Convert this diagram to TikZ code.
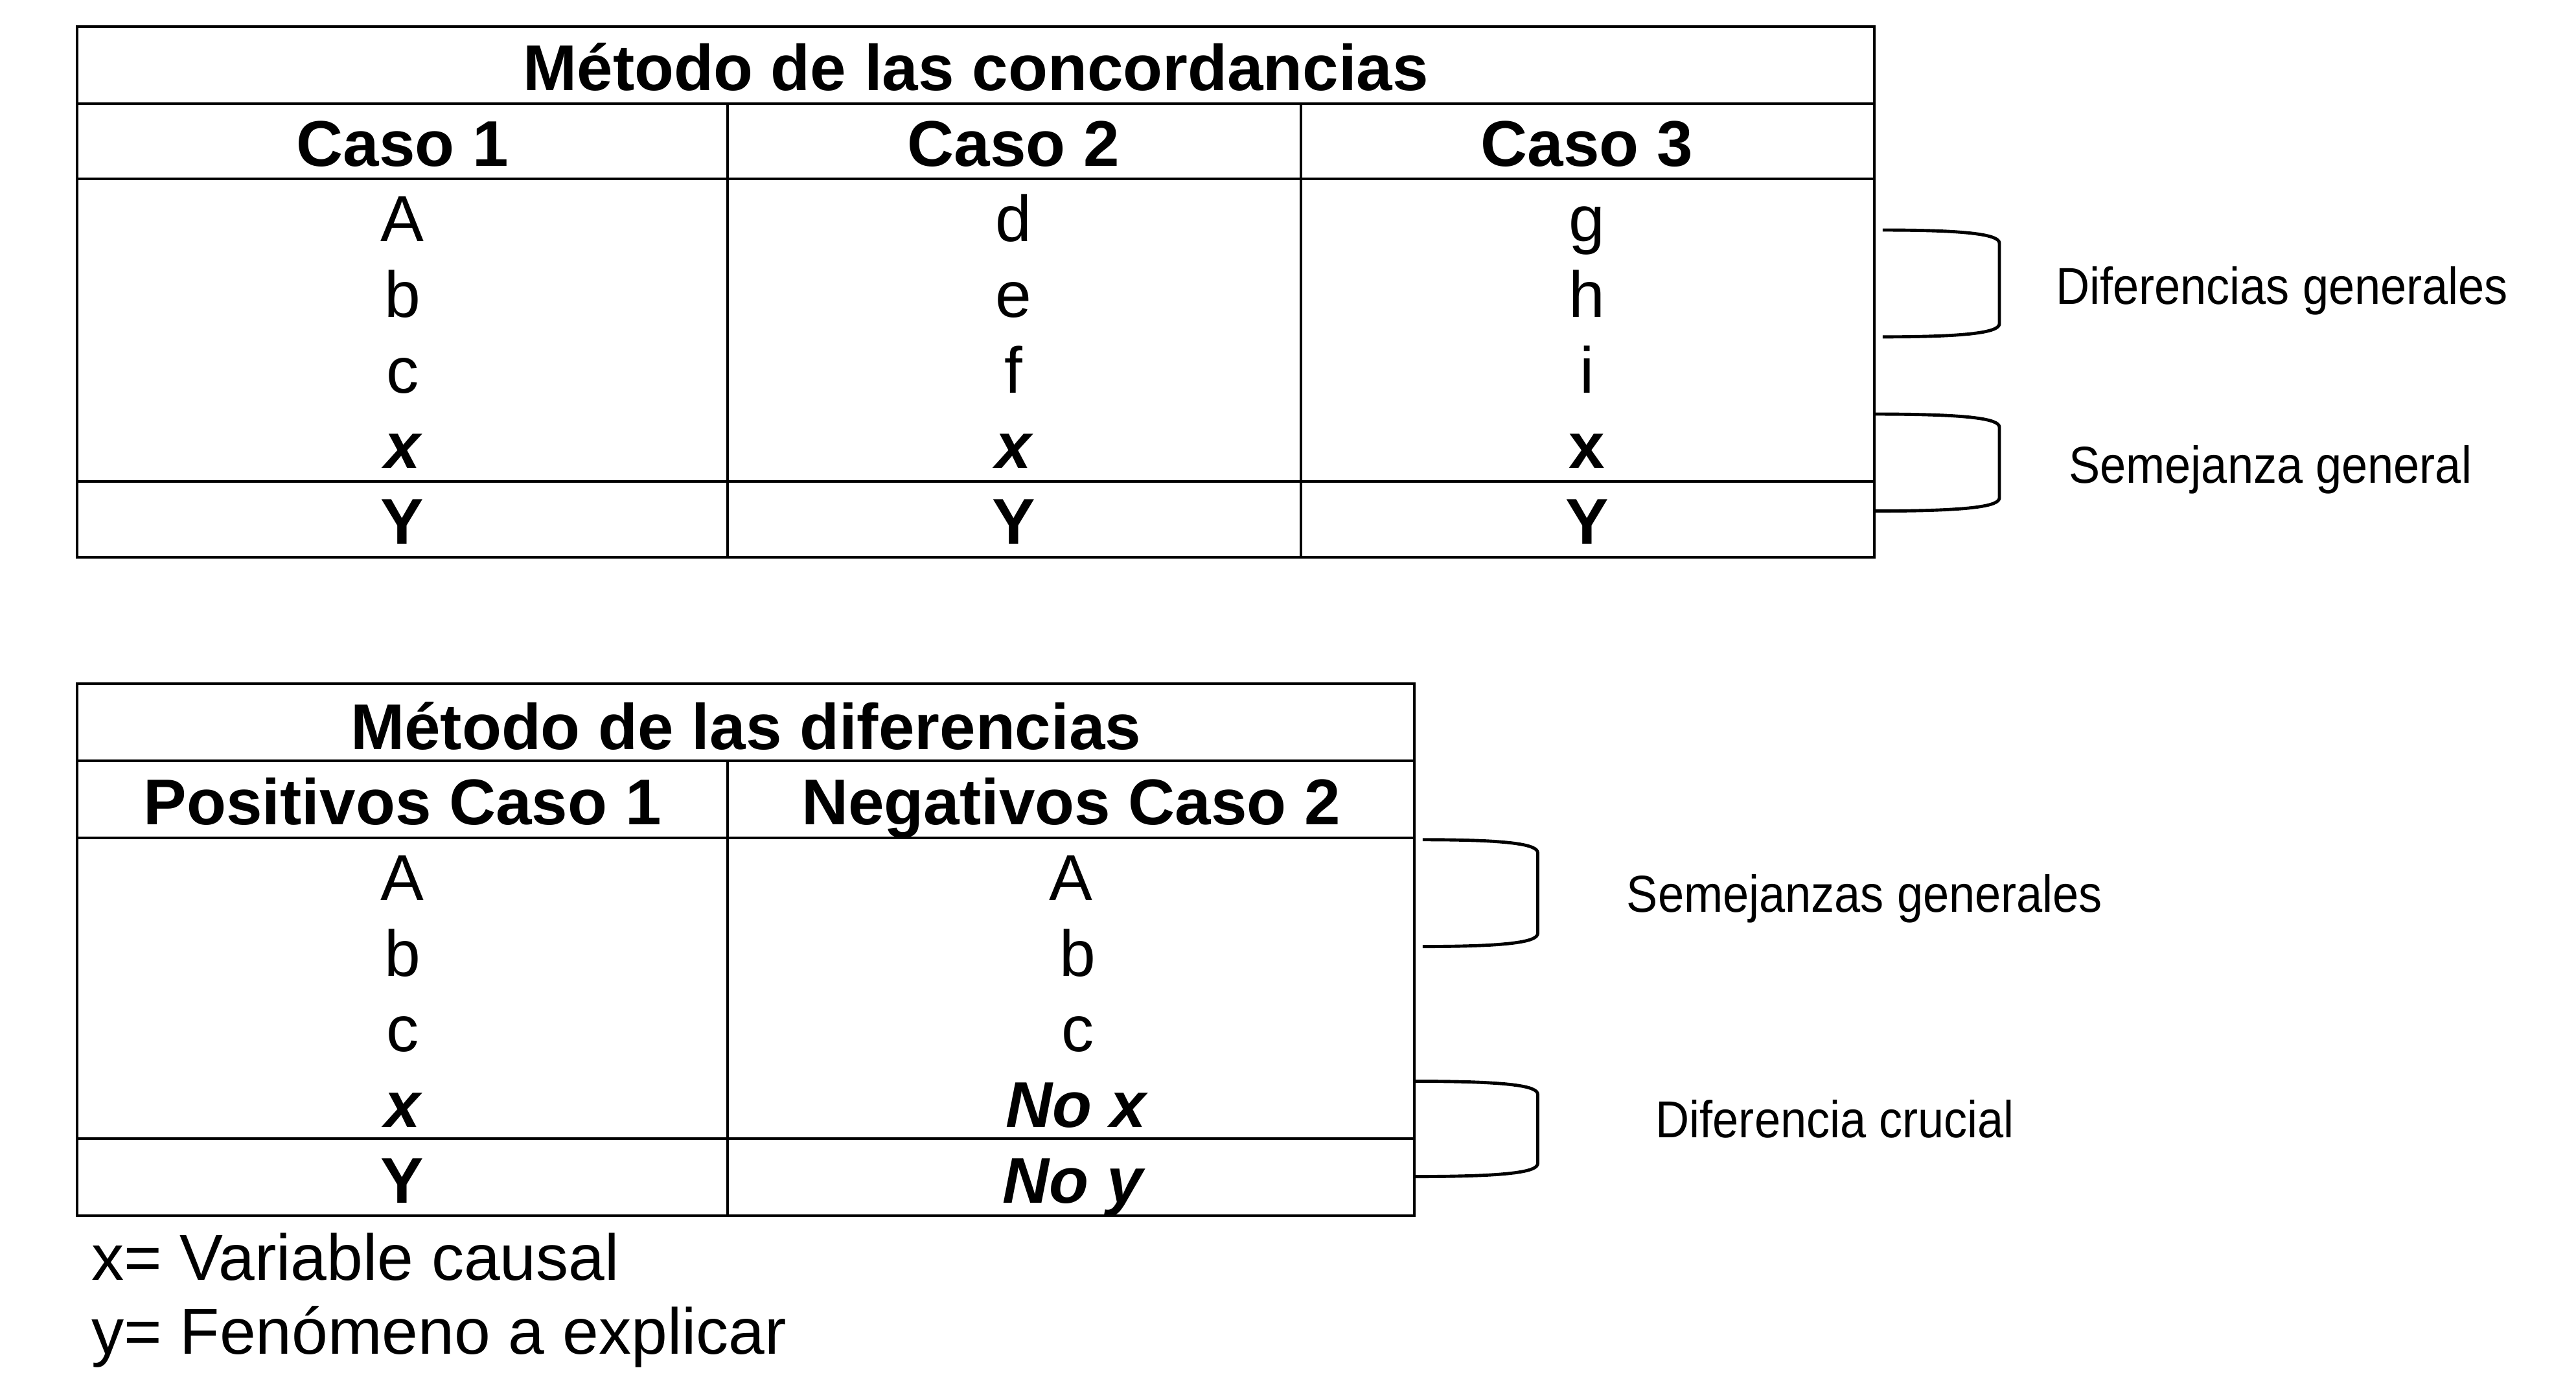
\documentclass[tikz,border=0pt]{standalone}
\usepackage{fontspec}
\setmainfont{Liberation Sans}
\newfontfamily\narrowfont[FakeStretch=0.9]{Liberation Sans}
\usetikzlibrary{positioning}

\begin{document}
\begin{tikzpicture}[x=0.02cm, y=-0.02cm, line width=0.9pt,
    every node/.style = {inner sep=0pt, anchor=base},
    cell/.style = {font=\fontsize{22.5}{26}\selectfont},
    head/.style = {font=\fontsize{22.4}{26}\selectfont\bfseries},
    note/.style = {anchor=center, font=\narrowfont\fontsize{18}{20}\selectfont},
    bracket/.style = {line width=1.1pt}]
  \useasboundingbox (0,0) rectangle (1568,839);

  % metodo de las concordancias
  \draw (47,16) rectangle (1141,339);
  \draw (47,63) -- (1141,63) (47,109) -- (1141,109) (47,293) -- (1141,293);
  \draw (443,63) -- (443,339) (792,63) -- (792,339);
  \node[head] (conc) at (594,55) {Método de las concordancias};
  \node[head] (caso1) at (245,101) {Caso 1};
  \node[head] (caso2) at (617,101) {Caso 2};
  \node[head] (caso3) at (966,101) {Caso 3};
  \foreach \t [count=\i] in {A,b,c}
    \node[cell] (k1\i) at (245,101+46*\i) {\t};
  \foreach \t [count=\i] in {d,e,f}
    \node[cell] (k2\i) at (617,101+46*\i) {\t};
  \foreach \t [count=\i] in {g,h,i}
    \node[cell] (k3\i) at (966,101+46*\i) {\t};
  \node[head] (k1x) at (245,285) {\itshape x};
  \node[head] (k2x) at (617,285) {\itshape x};
  \node[head] (k3x) at (966,285) {x};
  \node[head] (k1y) at (245,331) {Y};
  \node[head] (k2y) at (617,331) {Y};
  \node[head] (k3y) at (966,331) {Y};

  % llaves
  \draw[bracket] (1146,140) .. controls (1200,140) and (1217,143) .. (1217,148)
    -- (1217,197) .. controls (1217,202) and (1200,205) .. (1146,205);
  \draw[bracket] (1141,252) .. controls (1200,252) and (1217,255) .. (1217,260)
    -- (1217,303) .. controls (1217,308) and (1200,311) .. (1141,311);
  \node[note] (difgen) at (1389,177) {Diferencias generales};
  \node[note] (semgen) at (1382,286) {Semejanza general};

  % metodo de las diferencias
  \draw (47,416) rectangle (861,740);
  \draw (47,463) -- (861,463) (47,510) -- (861,510) (47,693) -- (861,693);
  \draw (443,463) -- (443,740);
  \node[head] (dif) at (454,456) {Método de las diferencias};
  \node[head] (pos) at (245,502) {Positivos Caso 1};
  \node[head] (neg) at (652,502) {Negativos Caso 2};
  \foreach \t [count=\i] in {A,b,c}
    \node[cell] (p\i) at (245,502+46*\i) {\t};
  \node[cell] (n1) at (652,548) {A};
  \node[cell] (n2) at (656,594) {b};
  \node[cell] (n3) at (656,640) {c};
  \node[head] (px) at (245,686) {\itshape x};
  \node[head] (nx) at (655,686) {\itshape No x};
  \node[head] (py) at (245,732) {Y};
  \node[head] (ny) at (653,732) {\itshape No y};

  \draw[bracket] (866,511) .. controls (920,511) and (936,514) .. (936,519)
    -- (936,568) .. controls (936,573) and (920,576) .. (866,576);
  \draw[bracket] (861,658) .. controls (920,658) and (936,661) .. (936,666)
    -- (936,708) .. controls (936,713) and (920,716) .. (861,716);
  \node[note] (semgens) at (1135,547) {Semejanzas generales};
  \node[note] (difcru) at (1117,681) {Diferencia crucial};

  % leyenda
  \node[cell, anchor=base west] (xleg) at (55,779) {x= Variable causal};
  \node[cell, anchor=base west] (yleg) at (55,824) {y= Fenómeno a explicar};
\end{tikzpicture}
\end{document}
